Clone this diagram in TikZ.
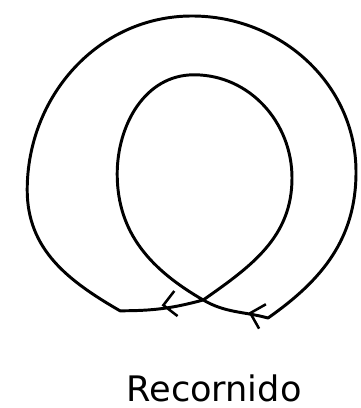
\documentclass[tikz,border=0pt]{standalone}
\usepackage{fontspec}
\setmainfont{DejaVu Sans}
\usetikzlibrary{arrows.meta,decorations.markings}

\begin{document}
\begin{tikzpicture}[
  loop/.style={line width=2.1pt,line cap=round,line join=round},
  midarr/.style={decorate,decoration={markings,
     mark=at position #1 with {\arrow{Straight Barb[length=9pt,width=18pt,line width=1.8pt]}}}},
  lbl/.style={font=\fontsize{25}{28}\selectfont,inner sep=0pt}
]
\useasboundingbox (0,0) rectangle (9,10.2);
% crossing and the two bottom corners
\coordinate (x)  at (5.08,2.70);
\coordinate (l)  at (3.00,2.43);
\coordinate (r)  at (6.70,2.25);
% outer loop
\coordinate (ow) at (0.68,5.45);
\coordinate (on) at (4.80,9.80);
\coordinate (oe) at (8.90,5.90);
% inner loop
\coordinate (iw) at (2.93,5.85);
\coordinate (in) at (4.85,8.33);
\coordinate (ie) at (7.30,5.75);

\draw[loop] (x) to[out=195,in=0] (l)
  to[out=150,in=-90] (ow)
  to[out=90,in=180] (on)
  to[out=0,in=90] (oe)
  to[out=-90,in=35] (r)
  to[out=165,in=-30] (x)
  to[out=150,in=-90] (iw)
  to[out=90,in=180] (in)
  to[out=0,in=90] (ie)
  to[out=-90,in=35] (x);

% arrows along the bottom
\path[loop,midarr=0.5] (x) -- (l);
\path[loop,midarr=0.3] (r) -- (x);

\node[lbl] (name) at (5.35,0.5) {Recornido};
\end{tikzpicture}
\end{document}
